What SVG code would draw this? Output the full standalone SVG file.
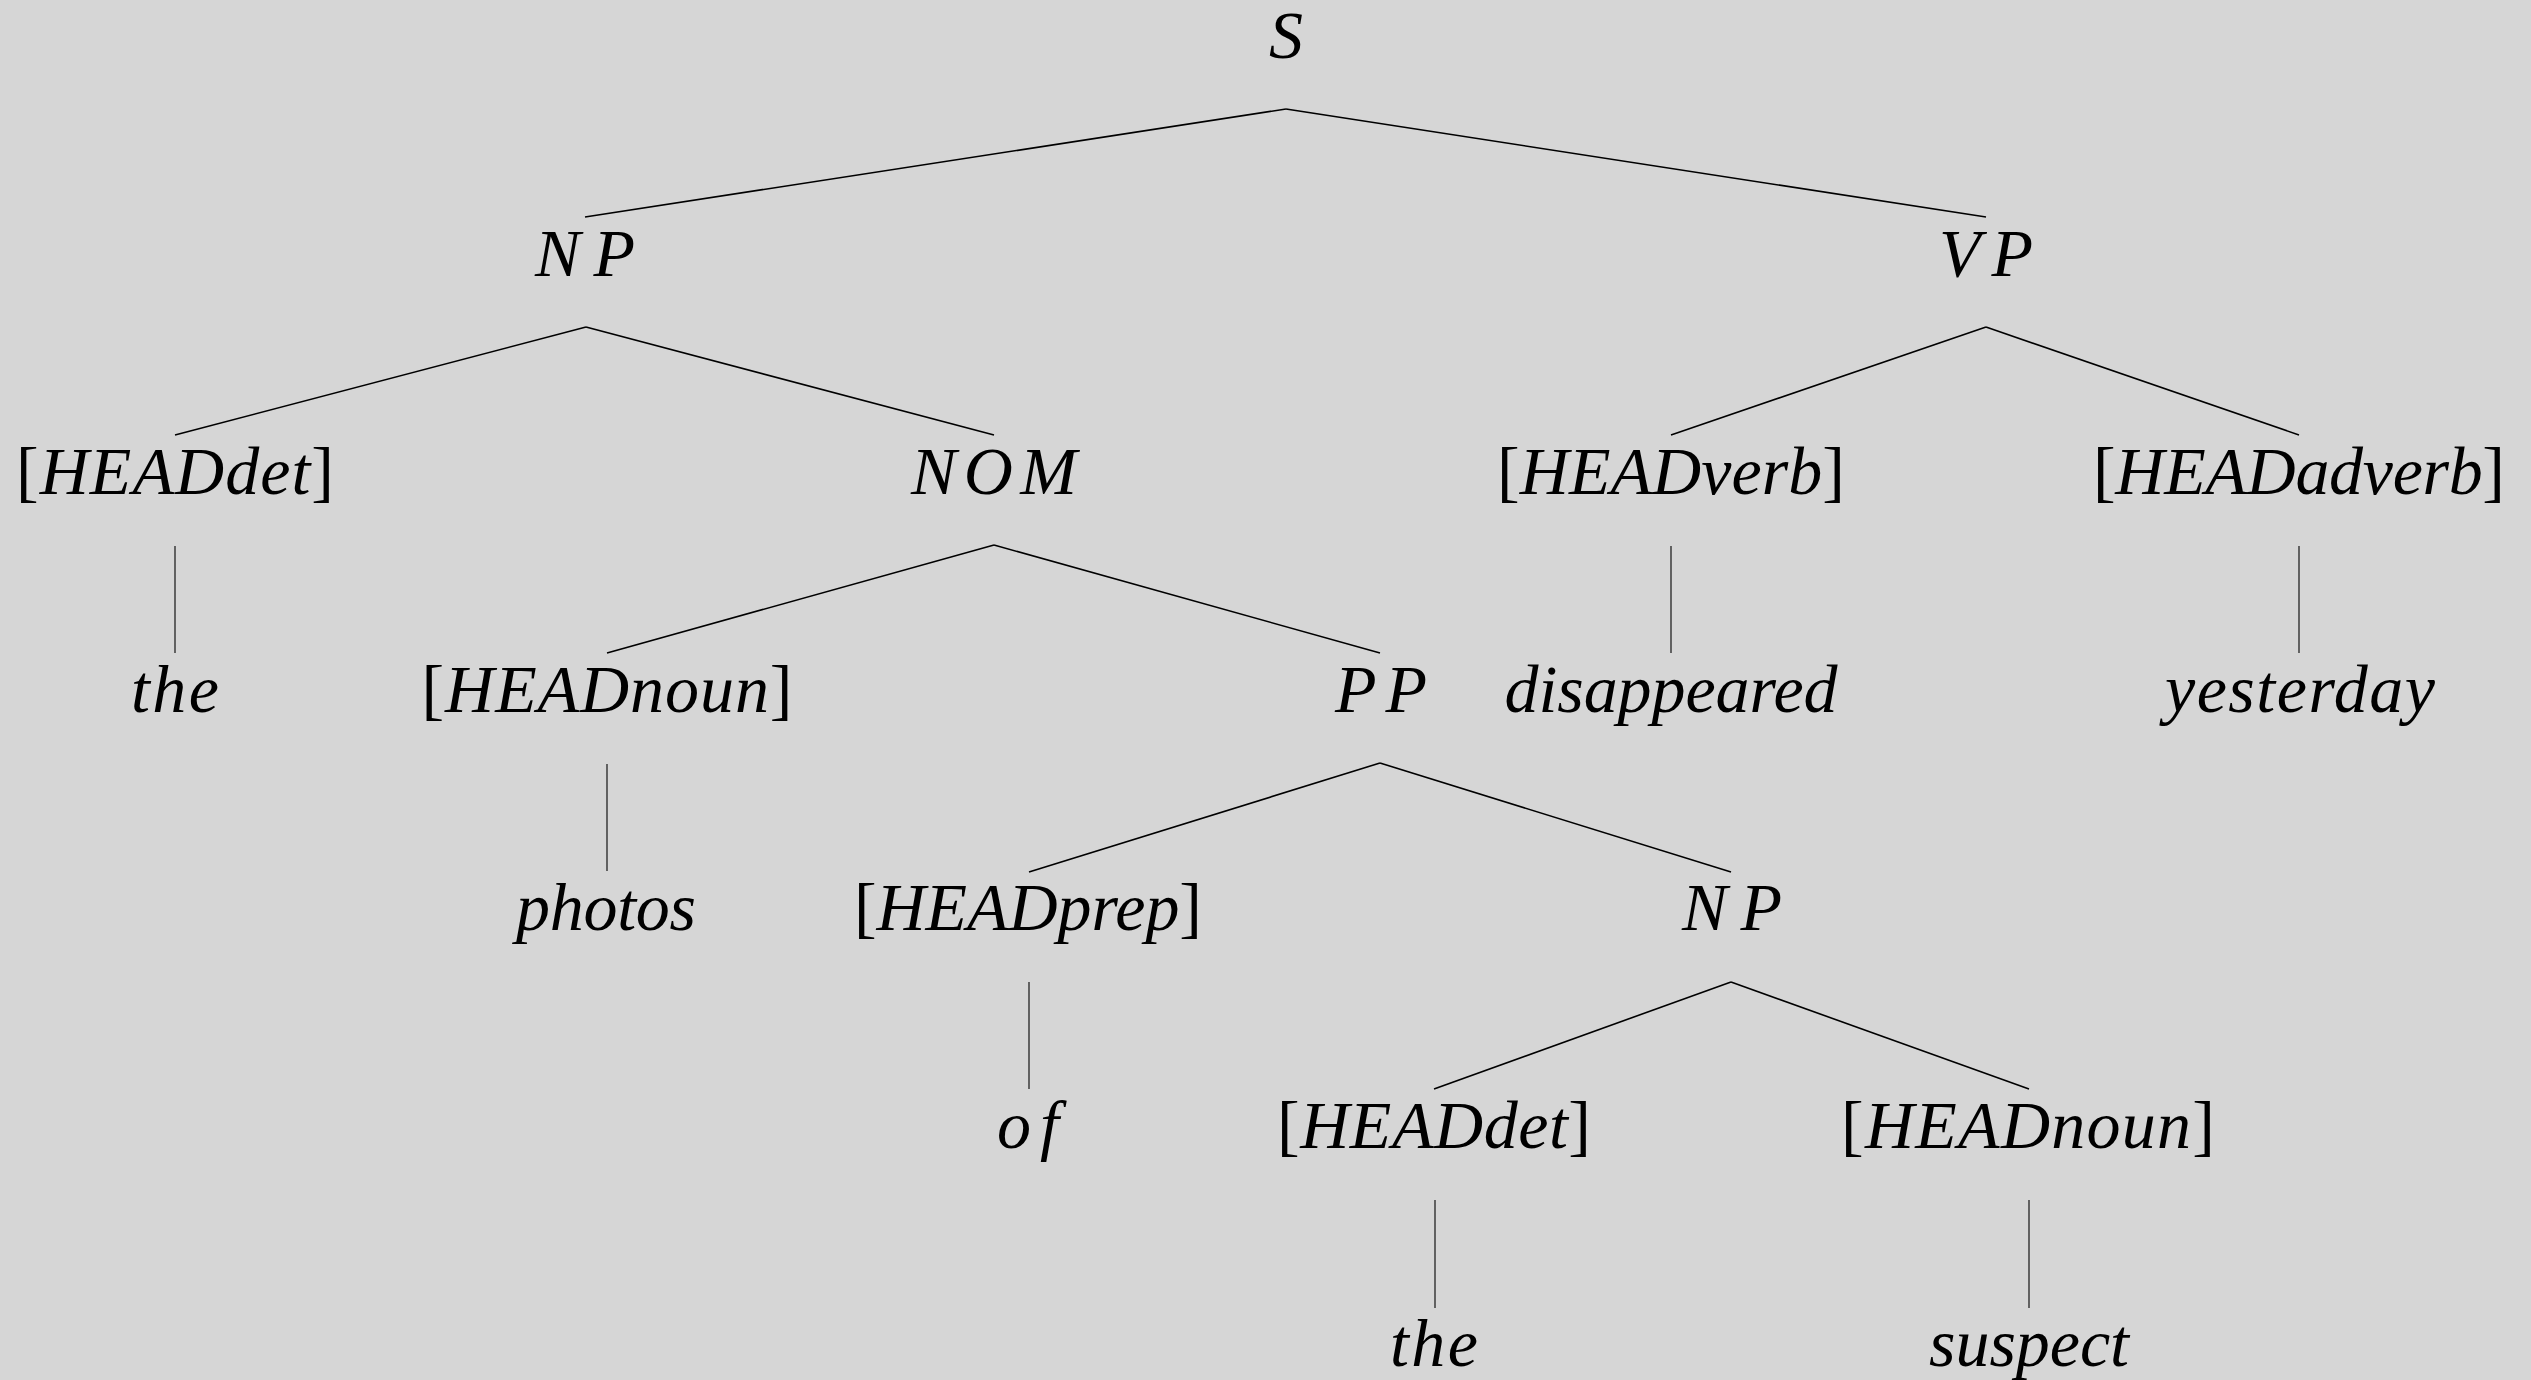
<svg xmlns="http://www.w3.org/2000/svg" width="2531" height="1380" viewBox="0 0 2531 1380">
<style>
text{font-family:"Liberation Serif","Times New Roman",serif;font-style:italic;font-size:68px;fill:#000;text-anchor:middle}
.up{font-style:normal}
.e line{stroke:#000;stroke-width:1.6;fill:none}
.e line.v{stroke:#222;stroke-width:1.3}
</style>
<rect width="2531" height="1380" fill="#d6d6d6"/>
<g class="e" id="connectors">
<line x1="1286" y1="109" x2="585" y2="217"/>
<line x1="1286" y1="109" x2="1986" y2="217"/>
<line x1="586" y1="327" x2="175" y2="435"/>
<line x1="586" y1="327" x2="994" y2="435"/>
<line x1="1986" y1="327" x2="1671" y2="435"/>
<line x1="1986" y1="327" x2="2299" y2="435"/>
<line class="v" x1="175" y1="546" x2="175" y2="653"/>
<line x1="994" y1="545" x2="607" y2="653"/>
<line x1="994" y1="545" x2="1380" y2="653"/>
<line class="v" x1="1671" y1="546" x2="1671" y2="653"/>
<line class="v" x1="2299" y1="546" x2="2299" y2="653"/>
<line class="v" x1="607" y1="764" x2="607" y2="871"/>
<line x1="1380" y1="763" x2="1029" y2="872"/>
<line x1="1380" y1="763" x2="1731" y2="872"/>
<line class="v" x1="1029" y1="982" x2="1029" y2="1089"/>
<line x1="1731" y1="982" x2="1434" y2="1089"/>
<line x1="1731" y1="982" x2="2029" y2="1089"/>
<line class="v" x1="1435" y1="1200" x2="1435" y2="1308"/>
<line class="v" x1="2029" y1="1200" x2="2029" y2="1308"/>
</g>
<g id="n-S"><text x="1286" y="58">S</text></g>
<g id="n-NP1"><text x="585" y="276" textLength="100">NP</text></g>
<g id="n-VP"><text x="1986" y="276" textLength="94">VP</text></g>
<g id="n-HEADdet1"><text x="175" y="494" textLength="318"><tspan class="up">[</tspan>HEADdet<tspan class="up">]</tspan></text></g>
<g id="n-NOM"><text x="994" y="494" textLength="166">NOM</text></g>
<g id="n-HEADverb"><text x="1671" y="494" textLength="348"><tspan class="up">[</tspan>HEADverb<tspan class="up">]</tspan></text></g>
<g id="n-HEADadverb"><text x="2299" y="494" textLength="412"><tspan class="up">[</tspan>HEADadverb<tspan class="up">]</tspan></text></g>
<g id="n-the1"><text x="175" y="712" textLength="88">the</text></g>
<g id="n-HEADnoun1"><text x="607" y="712" textLength="371"><tspan class="up">[</tspan>HEADnoun<tspan class="up">]</tspan></text></g>
<g id="n-PP"><text x="1381" y="712" textLength="92">PP</text></g>
<g id="n-disappeared"><text x="1671" y="712" textLength="333">disappeared</text></g>
<g id="n-yesterday"><text x="2300" y="712" textLength="270">yesterday</text></g>
<g id="n-photos"><text x="606" y="930" textLength="180">photos</text></g>
<g id="n-HEADprep"><text x="1028" y="930" textLength="348"><tspan class="up">[</tspan>HEADprep<tspan class="up">]</tspan></text></g>
<g id="n-NP2"><text x="1732" y="930" textLength="100">NP</text></g>
<g id="n-of"><text x="1028" y="1148" textLength="62">of</text></g>
<g id="n-HEADdet2"><text x="1434" y="1148" textLength="314"><tspan class="up">[</tspan>HEADdet<tspan class="up">]</tspan></text></g>
<g id="n-HEADnoun2"><text x="2028" y="1148" textLength="374"><tspan class="up">[</tspan>HEADnoun<tspan class="up">]</tspan></text></g>
<g id="n-the2"><text x="1434" y="1366" textLength="88">the</text></g>
<g id="n-suspect"><text x="2029" y="1366" textLength="200">suspect</text></g>
</svg>
